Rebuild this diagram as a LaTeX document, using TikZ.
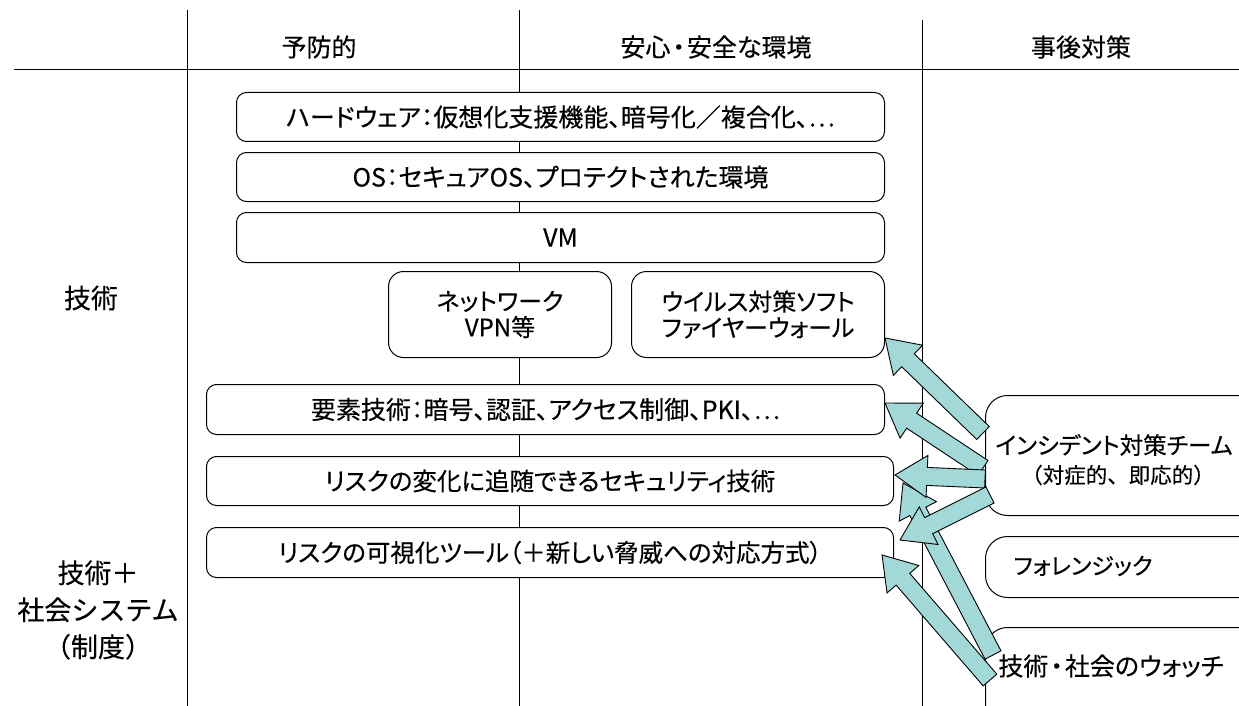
\documentclass[tikz,border=0pt]{standalone}
\usepackage{fontspec}
\setmainfont{Noto Sans CJK JP}[RawFeature=+palt,FakeBold=0.3]
\newfontfamily\fw{Noto Sans CJK JP}[FakeBold=0.3]
\usetikzlibrary{calc}
\definecolor{arrfill}{RGB}{163,216,216}
\newcommand\blockarr[2]{%
  \coordinate (bh) at ($(#2)!32pt!(#1)$);
  \draw[arrstyle] ($(#1)!9pt!90:(#2)$) -- ($(bh)!9pt!90:(#2)$) -- ($(bh)!21pt!90:(#2)$) -- (#2)
    -- ($(bh)!21pt!-90:(#2)$) -- ($(bh)!9pt!-90:(#2)$) -- ($(#1)!9pt!-90:(#2)$) -- cycle;}
\begin{document}
\begin{tikzpicture}[x=1pt,y=-1pt,
  every node/.style={font=\fontsize{25}{26}\selectfont},
  box/.style={draw,fill=white,rounded corners=10pt,inner sep=0pt,anchor=north west,align=center,line width=1pt},
  sbox/.style={box,rounded corners=15pt,font=\fontsize{24}{26}\selectfont},
  rbox/.style={draw,fill=white,rounded corners=22pt,inner sep=0pt,anchor=north west,line width=1pt,minimum width=300pt},
  grid/.style={line width=1pt},
  head/.style={font=\fw\fontsize{25}{26}\selectfont},
  lab/.style={align=center,font=\fw\fontsize{27}{37}\selectfont},
  arrstyle/.style={draw,fill=arrfill,line width=0.9pt,line join=miter}]
\useasboundingbox (0,0) rectangle (1239,706);
\clip (0,0) rectangle (1239,706);
% grid
\coordinate (h1) at (14,70); \coordinate (h2) at (1239,70);
\coordinate (v1a) at (187,10); \coordinate (v1b) at (187,706);
\coordinate (v2a) at (519,10); \coordinate (v2b) at (519,706);
\coordinate (v3a) at (922,20); \coordinate (v3b) at (922,706);
\draw[grid] (h1) -- (h2);
\draw[grid] (v1a) -- (v1b);
\draw[grid] (v2a) -- (v2b);
\draw[grid] (v3a) -- (v3b);
% headers
\node[head] (hd1) at (319,47) {予防的};
\node[font=\fontsize{25}{26}\selectfont] (hd2) at (716,47) {安心\hspace{2pt}・\hspace{2pt}安全な環境};
\node[head] (hd3) at (1081,47) {事後対策};
% left labels
\node[lab] (l1) at (91,298) {技術};
\node[lab] (l2) at (98,610) {技術＋\\社会システム\\（制度）};
% boxes
\node[box,minimum width=648pt,minimum height=49pt] (hw) at (236,92) {ハードウェア：仮想化支援機能、暗号化／複合化、…};
\node[box,minimum width=648pt,minimum height=49pt] (os) at (236,152) {OS：セキュアOS、プロテクトされた環境};
\node[box,minimum width=648pt,minimum height=50pt] (vm) at (236,212) {VM};
\node[sbox,minimum width=223pt,minimum height=86pt] (net) at (388,271) {ネットワーク\\VPN等};
\node[sbox,minimum width=253pt,minimum height=86pt] (vir) at (631,271) {ウイルス対策ソフト\\ファイヤーウォール};
\node[box,minimum width=678pt,minimum height=50pt] (elem) at (206,384) {要素技術：暗号、認証、アクセス制御、PKI、…};
\node[box,minimum width=687pt,minimum height=49pt,font=\fontsize{24.5}{26}\selectfont] (risk) at (206,456) {リスクの変化に追随できるセキュリティ技術};
\node[box,minimum width=687pt,minimum height=50pt,font=\fontsize{24.5}{26}\selectfont] (vis) at (206,527) {リスクの可視化ツール（＋新しい脅威への対応方式）};
% right boxes
\node[rbox,minimum height=120pt] (inc) at (985,395) {};
\node[font=\fontsize{23.5}{26}\selectfont] (inct1) at (1114,445) {インシデント対策チーム};
\node[font=\fw\fontsize{21.5}{26}\selectfont] (inct2) at (1118,475) {（対症的、即応的）};
\node[rbox,minimum height=61pt] (for) at (985,536) {};
\node[font=\fontsize{23}{26}\selectfont] (fort) at (1083,566) {フォレンジック};
\node[rbox,minimum height=100pt] (wat) at (985,627) {};
\node[font=\fontsize{25}{26}\selectfont] (watt) at (1111,666) {技術\hspace{2pt}・\hspace{2pt}社会のウォッチ};
% arrows
\coordinate (s5) at (993,655); \coordinate (t5) at (903,483);
\coordinate (s6) at (990,680); \coordinate (t6) at (882,555);
\coordinate (s1) at (983,433); \coordinate (t1) at (885,338);
\coordinate (s2) at (983,468); \coordinate (t2) at (885,403);
\coordinate (s3) at (985,479); \coordinate (t3) at (895,475);
\coordinate (s4) at (990,495); \coordinate (t4) at (900,540);
\blockarr{s5}{t5}
\blockarr{s6}{t6}
\blockarr{s1}{t1}
\blockarr{s2}{t2}
\blockarr{s3}{t3}
\blockarr{s4}{t4}
\end{tikzpicture}
\end{document}
